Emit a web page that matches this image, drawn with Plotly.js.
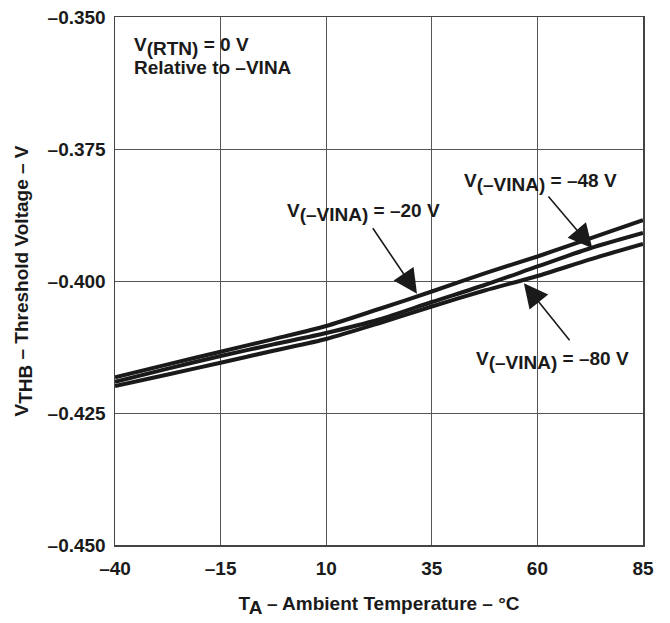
<!DOCTYPE html>
<html>
<head>
<meta charset="utf-8">
<script src="https://cdn.plot.ly/plotly-3.0.1.min.js"></script>
<style>html,body{margin:0;padding:0;background:#fff;}#chart{width:670px;height:623px;}</style>
</head>
<body>
<div id="chart"></div>
<script>
const temperature = [-40, -27.5, -15, -2.5, 10, 22.5, 35, 47.5, 60, 72.5, 85];
const vth_20 = [-0.41824, -0.4158, -0.41339, -0.4110, -0.40852, -0.40530, -0.40199, -0.39854, -0.39536, -0.39191, -0.38845];
const vth_48 = [-0.41907, -0.4166, -0.41420, -0.4120, -0.40985, -0.40730, -0.40398, -0.40076, -0.39725, -0.39380, -0.39091];
const vth_80 = [-0.41989, -0.4177, -0.41547, -0.4132, -0.41098, -0.40800, -0.40483, -0.40180, -0.39905, -0.39590, -0.39299];
const xTickVals = [-40, -15, 10, 35, 60, 85];
const xTickText = ['–40', '–15', '10', '35', '60', '85'];
const yTickVals = [-0.45, -0.425, -0.4, -0.375, -0.35];
const yTickText = ['–0.450', '–0.425', '–0.400', '–0.375', '–0.350'];

const FONT = '"Liberation Sans", Arial, sans-serif';
const INK = '#1a1a1a';
const lineStyle = {color: INK, width: 4, shape: 'spline', smoothing: 0.7};
const sub = (s) => '<sub><span style="font-size:19px">' + s + '</span></sub>';

const traces = [
  {x: temperature, y: vth_20, mode: 'lines', line: lineStyle, name: '–20 V'},
  {x: temperature, y: vth_48, mode: 'lines', line: lineStyle, name: '–48 V'},
  {x: temperature, y: vth_80, mode: 'lines', line: lineStyle, name: '–80 V'}
];

const txtFont = {family: FONT, size: 19, color: INK, weight: 'bold'};
const arrow = (x, y, ax, ay) => ({
  x: x, y: y, ax: ax, ay: ay, xref: 'x', yref: 'y', axref: 'x', ayref: 'y',
  text: '', showarrow: true, arrowhead: 2, arrowsize: 3, arrowwidth: 1.6, arrowcolor: INK, standoff: 0, startstandoff: 0
});
const label = (x, y, text) => ({
  x: x, y: y, xref: 'paper', yref: 'paper', text: text, showarrow: false,
  xanchor: 'left', yanchor: 'middle', font: txtFont
});

const layout = {
  width: 670, height: 623,
  margin: {l: 115, r: 27, t: 17, b: 78},
  paper_bgcolor: '#fff', plot_bgcolor: '#fff',
  showlegend: false,
  font: {family: FONT, color: INK},
  xaxis: {
    range: [-40, 85], tickmode: 'array', tickvals: xTickVals, ticktext: xTickText,
    showgrid: true, gridcolor: '#555', gridwidth: 1, zeroline: false,
    showline: true, mirror: true, linecolor: '#444', linewidth: 1.5, ticks: '',
    ticklabelstandoff: 6,
    tickfont: {family: FONT, size: 19, color: INK, weight: 'bold'},
    title: {text: 'T' + sub('A') + ' – Ambient Temperature – °C', font: {family: FONT, size: 19, color: INK, weight: 'bold'}, standoff: 18}
  },
  yaxis: {
    range: [-0.45, -0.35], tickmode: 'array', tickvals: yTickVals, ticktext: yTickText,
    showgrid: true, gridcolor: '#555', gridwidth: 1, zeroline: false,
    showline: true, mirror: true, linecolor: '#444', linewidth: 1.5, ticks: '',
    ticklabelstandoff: 4,
    tickfont: {family: FONT, size: 19, color: INK, weight: 'bold'},
    title: {text: 'V' + sub('THB') + ' – Threshold Voltage – V', font: {family: FONT, size: 19, color: INK, weight: 'bold'}, standoff: 14}
  },
  annotations: [
    label(0.033, 0.945, 'V' + sub('(RTN)') + ' = 0 V'),
    label(0.033, 0.905, 'Relative to –VINA'),
    label(0.322, 0.629, 'V' + sub('(–VINA)') + ' = –20 V'),
    label(0.657, 0.686, 'V' + sub('(–VINA)') + ' = –48 V'),
    label(0.680, 0.350, 'V' + sub('(–VINA)') + ' = –80 V'),
    arrow(31.5, -0.4024, 20.8, -0.38972),
    arrow(73.0, -0.39381, 62.3, -0.38371),
    arrow(56.8, -0.40044, 67.9, -0.41150)
  ]
};

Plotly.newPlot('chart', traces, layout, {displayModeBar: false, staticPlot: true});
</script>
</body>
</html>
